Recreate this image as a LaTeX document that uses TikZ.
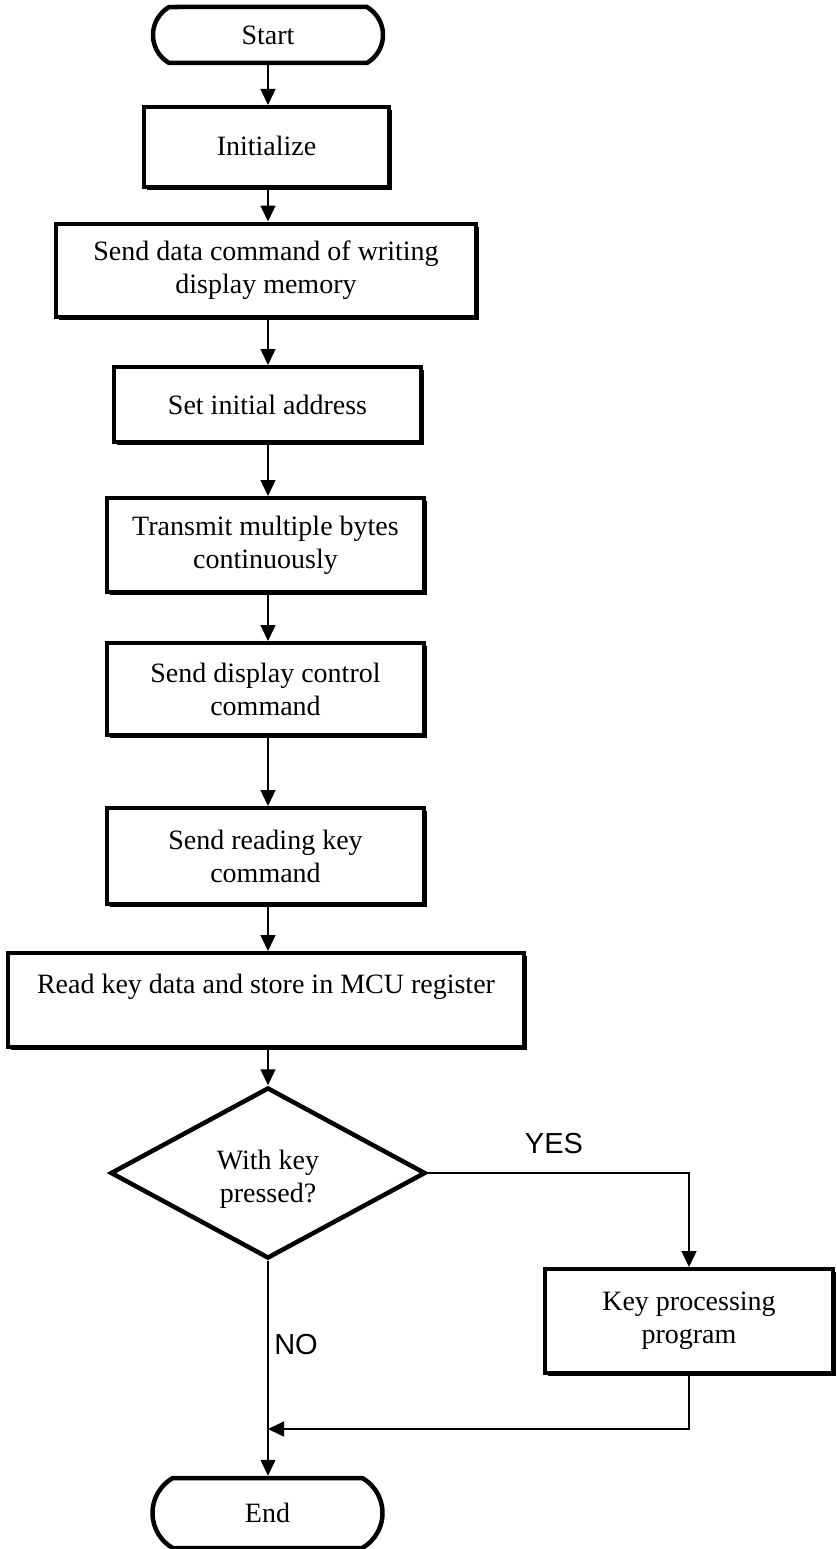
\documentclass[tikz,border=0pt]{standalone}
\usepackage{fontspec}
\setmainfont{Liberation Serif}
\newfontfamily\arialf{Liberation Sans}
\usetikzlibrary{arrows.meta,shapes.geometric,shapes.misc,shadows,calc}
\begin{document}
\begin{tikzpicture}[x=1pt,y=-1pt,
  txt/.style={font=\fontsize{28}{33}\selectfont},
  box/.style={txt,draw,line width=4pt,fill=white,rectangle,align=center,inner sep=0pt,
    drop shadow={shadow xshift=3pt,shadow yshift=-3pt,fill=black,opacity=1}},
  term/.style={txt,draw,line width=4.5pt,fill=white,rounded rectangle,rounded rectangle arc length=120,
    minimum width=230pt,inner sep=0pt},
  dec/.style={draw,line width=4.5pt,fill=white,diamond,inner sep=0pt,
    minimum width=315pt,minimum height=171pt},
  arr/.style={line width=1.4pt,-{Triangle[length=16pt,width=15pt]}},
  lab/.style={font=\arialf\fontsize{29}{33}\selectfont,inner sep=0pt}
]
\useasboundingbox (0,0) rectangle (836,1549);
\coordinate (spine) at (268,0);

\node[term,minimum height=56pt] (start) at (268,35) {Start};
\node[box,minimum width=245pt,minimum height=80pt] (init) at (266.5,147) {\raisebox{3pt}{Initialize}};
\node[box,minimum width=420pt,minimum height=93pt] (send) at (266,270) {Send data command of writing\\display memory};
\node[box,minimum width=307pt,minimum height=75pt] (addr) at (267.5,404.5) {Set initial address};
\node[box,minimum width=317pt,minimum height=94pt] (trans) at (265.5,545) {Transmit multiple bytes\\continuously};
\node[box,minimum width=317pt,minimum height=92pt] (disp) at (265.5,689) {Send display control\\command};
\node[box,minimum width=317pt,minimum height=96pt] (rkey) at (265.5,856) {Send reading key\\command};
\node[box,minimum width=516pt,minimum height=94pt] (store) at (266,1000) {Read key data and store in MCU register\\\mbox{}};
\node[dec,label={[txt,align=center,yshift=-6pt]center:With key\\pressed?}] (dia) at (268,1173) {};
\node[box,minimum width=288pt,minimum height=104pt] (kp) at (689,1321) {Key processing\\program};
\node[term,minimum height=70pt] (end) at (267.5,1513) {\raisebox{-2pt}{End}};

\coordinate (join) at (268,1429);

\draw[arr] (start.south -| spine) -- (init.north -| spine);
\draw[arr] (init.south -| spine) -- (send.north -| spine);
\draw[arr] (send.south -| spine) -- (addr.north -| spine);
\draw[arr] (addr.south -| spine) -- (trans.north -| spine);
\draw[arr] (trans.south -| spine) -- (disp.north -| spine);
\draw[arr] (disp.south -| spine) -- (rkey.north -| spine);
\draw[arr] (rkey.south -| spine) -- (store.north -| spine);
\draw[arr] (store.south -| spine) -- (dia.north);
\draw[arr] (dia.east) -| (kp.north);
\draw[arr] (dia.south) -- (end.north -| spine);
\draw[arr] (kp.south) |- (join);

\node[lab] (yes) at (554,1144) {YES};
\node[lab] (no) at (296,1345) {NO};
\end{tikzpicture}
\end{document}
